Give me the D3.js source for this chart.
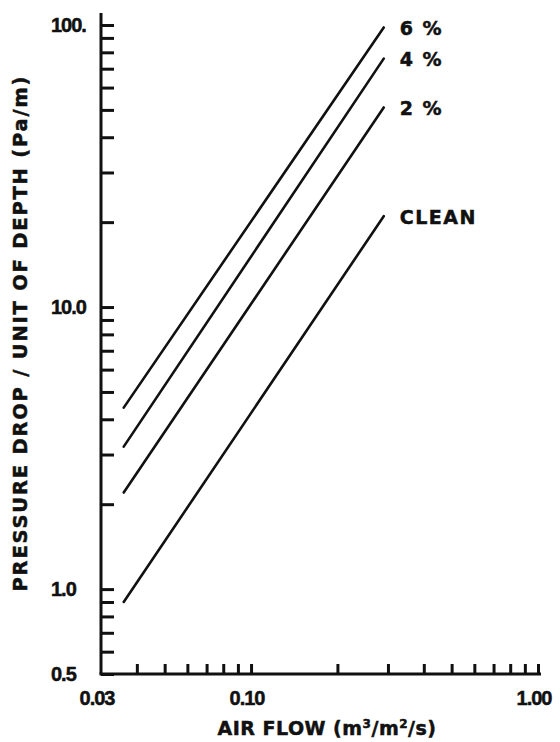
<!DOCTYPE html>
<html>
<head>
<meta charset="utf-8">
<script src="https://cdn.jsdelivr.net/npm/d3@7"></script>
<style>
  body { margin: 0; background: #fff; }
  svg text { font-family: "DejaVu Sans", sans-serif; font-weight: bold; fill: #111; stroke: #111; stroke-width: 0.5px; }
</style>
</head>
<body>
<svg id="chart" width="560" height="742"></svg>
<script>
// data
const seriesNames  = ["CLEAN", "2 %", "4 %", "6 %"];
const flowEnds     = [0.036, 0.29];          // m3/m2/s, start and end of every line
const cleanDrop    = [0.9, 21];
const dust2Drop    = [2.2, 51];
const dust4Drop    = [3.2, 76];
const dust6Drop    = [4.4, 98];
const yTicks       = [0.5, 0.6, 0.7, 0.8, 0.9, 1, 2, 3, 4, 5, 6, 7, 8, 9, 10, 20, 30, 40, 50, 60, 70, 80, 90, 100];
const yTickLabels  = [[0.5, "0.5"], [1, "1.0"], [10, "10.0"], [100, "100."]];
const xTicks       = [0.04, 0.05, 0.06, 0.07, 0.08, 0.09, 0.1, 0.2, 0.3, 0.4, 0.5, 0.6, 0.7, 0.8, 0.9, 1];
const xTickLabels  = [[0.03, "0.03"], [0.1, "0.10"], [1, "1.00"]];

const series = [cleanDrop, dust2Drop, dust4Drop, dust6Drop].map((v, i) => ({
  name: seriesNames[i],
  pts: flowEnds.map((f, j) => ({x: f, y: v[j]}))
}));

const svg = d3.select("#chart"),
      x   = d3.scaleLog().domain([0.03, 1]).range([101, 538]),
      y   = d3.scaleLog().domain([0.5, 100]).range([674, 25]);

//y axis, ticks pointing inward
svg.append("g")
    .attr("transform", "translate(101,0)")
    .call(d3.axisLeft(y).tickValues(yTicks).tickSize(-13).tickSizeOuter(0).tickFormat(""))
    .call(g => g.select(".domain").attr("d", `M0,13V${y(0.5)}`))
    .call(g => g.selectAll("path,line").attr("stroke", "#111").attr("stroke-width", 3));

//x axis, ticks pointing up
svg.append("g")
    .attr("transform", `translate(0,${y(0.5)})`)
    .call(d3.axisBottom(x).tickValues(xTicks).tickSize(-10).tickSizeOuter(0).tickFormat(""))
    .call(g => g.select(".domain").attr("d", `M${x(0.03) - 1.5},0H541`))
    .call(g => g.selectAll("path,line").attr("stroke", "#111").attr("stroke-width", 3));

//tick labels
svg.selectAll(".ylab")
  .data(yTickLabels)
  .enter().append("text")
    .attr("class", "ylab")
    .attr("x", 51)
    .attr("y", d => y(d[0]))
    .attr("dy", "0.36em")
    .style("font-family", "'Liberation Sans', sans-serif")
    .style("font-size", "20px")
    .style("letter-spacing", "-1px")
    .text(d => d[1]);

svg.selectAll(".xlab")
  .data(xTickLabels)
  .enter().append("text")
    .attr("class", "xlab")
    .attr("x", d => x(d[0]) - 4)
    .attr("y", 698)
    .attr("dy", "0.36em")
    .attr("text-anchor", "middle")
    .style("font-family", "'Liberation Sans', sans-serif")
    .style("font-size", "20px")
    .style("letter-spacing", "-1px")
    .text(d => d[1]);

//the lines
const line = d3.line().x(d => x(d.x)).y(d => y(d.y));
svg.selectAll(".ser")
  .data(series)
  .enter().append("path")
    .attr("class", "ser")
    .attr("d", d => line(d.pts))
    .attr("fill", "none")
    .attr("stroke", "#111")
    .attr("stroke-width", 2.6)
    .attr("stroke-linecap", "round");

svg.selectAll(".serlab")
  .data(series)
  .enter().append("text")
    .attr("class", "serlab")
    .attr("x", d => x(d.pts[1].x) + 16)
    .attr("y", d => y(d.pts[1].y) + 1)
    .attr("dy", "0.36em")
    .style("font-size", "19px")
    .style("letter-spacing", "1.5px")
    .text(d => d.name);

//axis titles
svg.append("text")
    .attr("x", 327)
    .attr("y", 728)
    .attr("dy", "0.36em")
    .attr("text-anchor", "middle")
    .style("font-size", "19px")
    .style("letter-spacing", "0.5px")
    .html("AIR FLOW (m<tspan font-size='12px' dy='-7'>3</tspan><tspan dy='7'>/m</tspan><tspan font-size='12px' dy='-7'>2</tspan><tspan dy='7'>/s)</tspan>");

svg.append("text")
    .attr("transform", "translate(20,334) rotate(-90)")
    .attr("dy", "0.36em")
    .attr("text-anchor", "middle")
    .attr("textLength", 515)
    .attr("lengthAdjust", "spacing")
    .style("font-size", "19.5px")
    .text("PRESSURE DROP / UNIT OF DEPTH (Pa/m)");
</script>
</body>
</html>
